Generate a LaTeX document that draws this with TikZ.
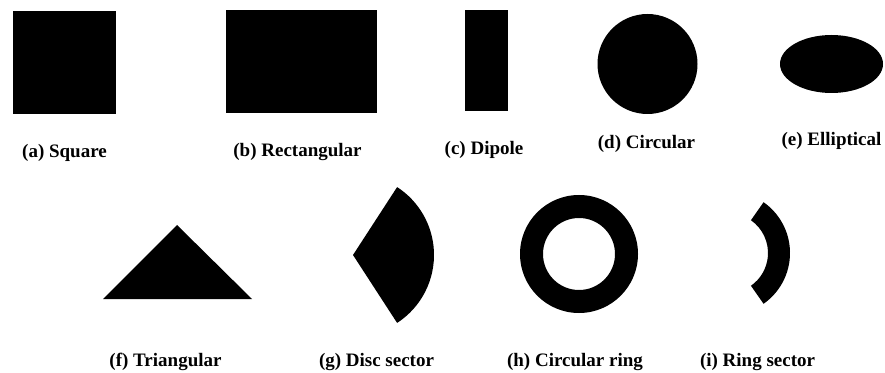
\documentclass[tikz,border=0pt]{standalone}
\usepackage{fontspec}
\setmainfont{Liberation Serif}
\usepackage{tikz}
\usetikzlibrary{positioning}

\begin{document}
\begin{tikzpicture}[
  x=1pt, y=1pt,
  patch/.style={fill=black, draw=none},
  shapelabel/.style={font=\fontsize{19}{21}\selectfont\bfseries, inner sep=0pt},
]
\useasboundingbox (0,0) rectangle (885,372);

% ── Top row ──
\fill[patch] (13,258) rectangle (116,361);
\fill[patch] (226,259) rectangle (377,362);
\fill[patch] (465,261) rectangle (508,362);
\fill[patch] (647.5,308) circle[radius=50];
\fill[patch] (831.5,308) ellipse[x radius=51.5, y radius=29];

\node[shapelabel] (lbla) at (64.5,219) {(a) Square};
\node[shapelabel] (lblb) at (297.5,220) {(b) Rectangular};
\node[shapelabel] (lblc) at (484,222) {(c) Dipole};
\node[shapelabel] (lbld) at (646.5,228) {(d) Circular};
\node[shapelabel] (lble) at (831.5,231) {(e) Elliptical};

% ── Bottom row ──
\fill[patch] (103,73) -- (177,147) -- (252,73) -- cycle;
\fill[patch] (353,117) -- ++(-57:81) arc[start angle=-57, end angle=57, radius=81] -- cycle;
\fill[patch, even odd rule] (579,118) circle[radius=59] (579,118) circle[radius=36];
\fill[patch] (728,119) ++(-55:40) -- ++(-55:22) arc[start angle=-55, end angle=55, radius=62]
  -- ++(235:22) arc[start angle=55, end angle=-55, radius=40] -- cycle;

\node[shapelabel] (lblf) at (165.5,10) {(f) Triangular};
\node[shapelabel] (lblg) at (376.5,10) {(g) Disc sector};
\node[shapelabel] (lblh) at (575,10) {(h) Circular ring};
\node[shapelabel] (lbli) at (757.5,10) {(i) Ring sector};

\end{tikzpicture}
\end{document}
